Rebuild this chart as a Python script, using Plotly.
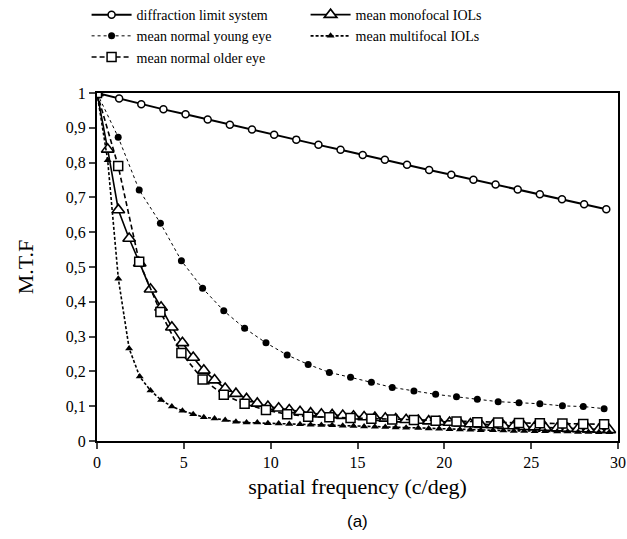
import plotly.graph_objects as go

# ---------------- data ----------------
x_diff = [0, 1.275, 2.55, 3.825, 5.1, 6.375, 7.65, 8.925, 10.2, 11.475, 12.75, 14.025,
          15.3, 16.575, 17.85, 19.125, 20.4, 21.675, 22.95, 24.225, 25.5, 26.775, 28.05, 29.325]
y_diff = [1.0, 0.984, 0.968, 0.953, 0.939, 0.924, 0.909, 0.895, 0.880, 0.866, 0.851, 0.837,
          0.822, 0.808, 0.794, 0.779, 0.765, 0.751, 0.737, 0.723, 0.709, 0.695, 0.680, 0.666]

x_eye = [0, 1.22, 2.43, 3.65, 4.86, 6.08, 7.3, 8.5, 9.73, 10.95, 12.16, 13.38, 14.6,
         15.8, 17.0, 18.25, 19.5, 20.7, 21.9, 23.1, 24.3, 25.5, 26.8, 28.0, 29.2]
y_young = [1.0, 0.873, 0.721, 0.626, 0.518, 0.439, 0.374, 0.324, 0.282, 0.247, 0.220, 0.197,
           0.183, 0.169, 0.154, 0.144, 0.134, 0.127, 0.120, 0.113, 0.110, 0.107, 0.101, 0.099, 0.093]
y_older = [1.0, 0.790, 0.515, 0.371, 0.253, 0.177, 0.133, 0.107, 0.089, 0.077, 0.070, 0.068,
           0.066, 0.064, 0.062, 0.060, 0.058, 0.056, 0.054, 0.053, 0.052, 0.051, 0.050, 0.049, 0.048]

x_iol = [0, 0.615, 1.23, 1.85, 2.46, 3.08, 3.69, 4.31, 4.92, 5.54, 6.15, 6.77, 7.38, 8.0,
         8.61, 9.23, 9.84, 10.46, 11.07, 11.69, 12.3, 12.92, 13.54, 14.15, 14.77, 15.38, 16.0,
         16.6, 17.2, 17.8, 18.5, 19.1, 19.7, 20.3, 20.9, 21.5, 22.1, 22.8, 23.4, 24.0, 24.6,
         25.2, 25.8, 26.5, 27.1, 27.7, 28.3, 28.9, 29.5]
y_mono = [1.0, 0.838, 0.664, 0.582, 0.511, 0.436, 0.384, 0.327, 0.282, 0.240, 0.203, 0.175,
          0.151, 0.136, 0.121, 0.108, 0.099, 0.094, 0.089, 0.084, 0.080, 0.077, 0.075, 0.073,
          0.071, 0.069, 0.067, 0.065, 0.063, 0.061, 0.059, 0.057, 0.055, 0.053, 0.051, 0.049,
          0.047, 0.046, 0.044, 0.043, 0.041, 0.040, 0.039, 0.037, 0.036, 0.035, 0.034, 0.033, 0.032]
y_multi = [1.0, 0.807, 0.466, 0.266, 0.185, 0.145, 0.118, 0.099, 0.087, 0.077, 0.068, 0.065,
           0.060, 0.055, 0.053, 0.053, 0.051, 0.050, 0.049, 0.048, 0.047, 0.046, 0.045, 0.044,
           0.043, 0.042, 0.041, 0.040, 0.039, 0.038, 0.037, 0.036, 0.035, 0.034, 0.033, 0.032,
           0.031, 0.031, 0.030, 0.029, 0.029, 0.028, 0.028, 0.027, 0.027, 0.026, 0.026, 0.025, 0.025]

x_ticks = [0, 5, 10, 15, 20, 25, 30]
y_ticks = [0, 0.1, 0.2, 0.3, 0.4, 0.5, 0.6, 0.7, 0.8, 0.9, 1]
y_ticktext = ["0", "0,1", "0,2", "0,3", "0,4", "0,5", "0,6", "0,7", "0,8", "0,9", "1"]

names = ["diffraction limit system", "mean monofocal IOLs", "mean normal young eye",
         "mean multifocal IOLs", "mean normal older eye"]

SERIF = "Liberation Serif"
fig = go.Figure()

fig.add_trace(go.Scatter(x=x_diff, y=y_diff, name=names[0], mode="lines+markers",
                         line=dict(color="black", width=2),
                         marker=dict(symbol="circle", size=7, color="white",
                                     line=dict(color="black", width=1.5))))
fig.add_trace(go.Scatter(x=x_iol, y=y_mono, name=names[1], mode="lines+markers",
                         line=dict(color="black", width=1.6),
                         marker=dict(symbol="triangle-up", size=11, color="white",
                                     line=dict(color="black", width=1.6))))
fig.add_trace(go.Scatter(x=x_eye, y=y_young, name=names[2], mode="lines+markers",
                         line=dict(color="black", width=1, dash="dot"),
                         marker=dict(symbol="circle", size=7, color="black")))
fig.add_trace(go.Scatter(x=x_iol, y=y_multi, name=names[3], mode="lines+markers",
                         line=dict(color="black", width=1.6, dash="3px,2px"),
                         marker=dict(symbol="triangle-up", size=7, color="black")))
fig.add_trace(go.Scatter(x=x_eye, y=y_older, name=names[4], mode="lines+markers",
                         line=dict(color="black", width=1.6, dash="5px,3px"),
                         marker=dict(symbol="square", size=9, color="white",
                                     line=dict(color="black", width=1.5))))

fig.update_layout(
    width=627, height=539,
    margin=dict(l=97, r=9, t=93, b=98, autoexpand=False),
    paper_bgcolor="white", plot_bgcolor="white",
    font=dict(family=SERIF, color="black"),
    showlegend=True,
    legend=dict(orientation="h", x=-0.02, y=1.27, xanchor="left", yanchor="top",
                font=dict(family=SERIF, size=14, color="black"),
                entrywidthmode="pixels", entrywidth=164, itemwidth=40,
                tracegroupgap=0, bgcolor="rgba(0,0,0,0)"),
    xaxis=dict(range=[0, 30], tickvals=x_ticks, ticks="outside", ticklen=6, tickwidth=1.5,
               showline=True, linewidth=2, linecolor="black", mirror=True, showgrid=False,
               zeroline=False, automargin=False, tickfont=dict(family=SERIF, size=16),
               title=dict(text="spatial frequency (c/deg)", font=dict(family=SERIF, size=22),
                          standoff=8)),
    yaxis=dict(range=[0, 1], tickvals=y_ticks, ticktext=y_ticktext, ticks="outside",
               ticklen=6, tickwidth=1.5, showline=True, linewidth=2, linecolor="black",
               mirror=True, showgrid=False, zeroline=False, automargin=False,
               tickfont=dict(family=SERIF, size=16),
               title=dict(text="M.T.F", font=dict(family=SERIF, size=22), standoff=26)),
    annotations=[dict(text="(a)", x=0.5, y=-0.23, xref="paper", yref="paper",
                      xanchor="center", yanchor="middle", showarrow=False,
                      font=dict(family="Liberation Sans", size=17, color="black"))],
)

fig.write_html("out.html")
